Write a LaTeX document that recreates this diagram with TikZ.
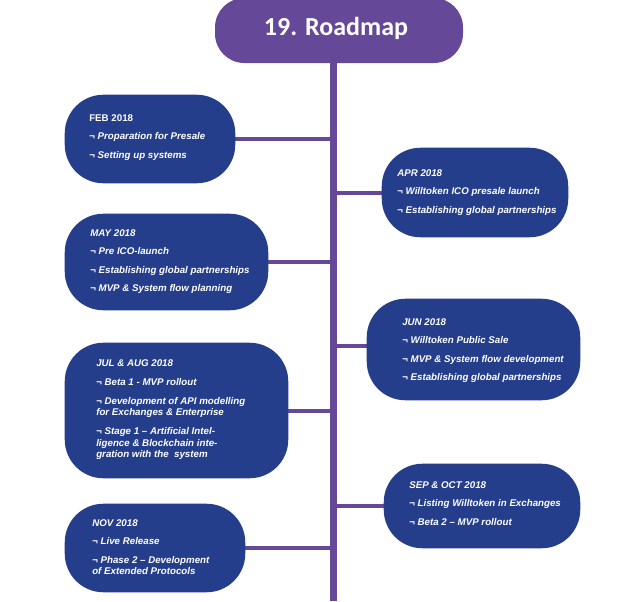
\documentclass[tikz,border=0pt]{standalone}
\usepackage{fontspec}
\setmainfont{Liberation Sans}
\newfontfamily\titlefont{Carlito}
\usetikzlibrary{fit}
\definecolor{boxblue}{RGB}{36,62,140}
\definecolor{roadpurple}{RGB}{101,72,151}
\tikzset{
  milestone/.style={fill=boxblue, rounded corners=29pt, inner sep=0pt, draw=none},
  titlebox/.style={fill=roadpurple, rounded corners=22pt, inner sep=0pt, draw=none},
  itemtext/.style={anchor=north west, inner sep=0pt, align=left, text=white,
    font=\fontsize{7.3}{8.6}\selectfont\bfseries\itshape},
  titletext/.style={text=white, inner sep=0pt, font=\titlefont\fontsize{19.5}{22}\selectfont\bfseries},
  spine/.style={draw=roadpurple, line width=5.25pt},
  branch/.style={draw=roadpurple, line width=3pt},
}
\begin{document}
\begin{tikzpicture}[x=0.75pt, y=-0.75pt]
\useasboundingbox (0,0) rectangle (640,601);
% title
\node[titlebox, fit={(215,-2) (463,63)}] (title) {};
\node[titletext] (titlelabel) at (336,28) {19. Roadmap};
\coordinate (spinetop) at (333,63);
\coordinate (spinebottom) at (333,601);
% boxes (shapes only, drawn later)
\path node[milestone, fill=none, fit={(65,95) (235,183)}] (feb) {}
      node[milestone, fill=none, fit={(382,148) (568,237)}] (apr) {}
      node[milestone, fill=none, fit={(65,214) (268,310)}] (may) {}
      node[milestone, fill=none, fit={(367,299) (580,400)}] (jun) {}
      node[milestone, fill=none, fit={(65,343) (288,478)}] (jul) {}
      node[milestone, fill=none, fit={(384,464) (580,548)}] (sep) {}
      node[milestone, fill=none, fit={(65,504) (245,592)}] (nov) {};
% spine and branches
\draw[spine] (spinetop) -- (spinebottom);
\draw[branch] (feb.east) -- (feb.east -| spinetop);
\draw[branch] (apr.west) -- (apr.west -| spinetop);
\draw[branch] (may.east) -- (may.east -| spinetop);
\draw[branch] ([yshift=3pt]jun.west) -- ([yshift=3pt]jun.west -| spinetop);
\draw[branch] (jul.east) -- (jul.east -| spinetop);
\draw[branch] (sep.west) -- (sep.west -| spinetop);
\draw[branch] (nov.east) -- (nov.east -| spinetop);
% filled boxes
\foreach \b in {feb,apr,may,jun,jul,sep,nov}
  \fill[boxblue, rounded corners=29pt] (\b.north west) rectangle (\b.south east);
% texts
\node[itemtext] (febtext) at (89,114.5) {{\upshape FEB 2018}\\[5.1pt]
  ¬ Proparation for Presale\\[5.1pt]
  ¬ Setting up systems};
\node[itemtext] (aprtext) at (397,169.5) {APR 2018\\[5.1pt]
  ¬ Willtoken ICO presale launch\\[5.1pt]
  ¬ Establishing global partnerships};
\node[itemtext] (maytext) at (90,229.5) {MAY 2018\\[5.1pt]
  ¬ Pre ICO-launch\\[5.1pt]
  ¬ Establishing global partnerships\\[5.1pt]
  ¬ MVP \& System flow planning};
\node[itemtext] (juntext) at (402,318.5) {JUN 2018\\[5.1pt]
  ¬ Willtoken Public Sale\\[5.1pt]
  ¬ MVP \& System flow development\\[5.1pt]
  ¬ Establishing global partnerships};
\node[itemtext] (jultext) at (96,359.5) {JUL \& AUG 2018\\[5.6pt]
  ¬ Beta 1 - MVP rollout\\[5.6pt]
  ¬ Development of API modelling\\
  for Exchanges \& Enterprise\\[5.6pt]
  ¬ Stage 1 – Artificial Intel-\\
  ligence \& Blockchain inte-\\
  gration with the\ \ system};
\node[itemtext] (septext) at (409,481.5) {SEP \& OCT 2018\\[5.1pt]
  ¬ Listing Willtoken in Exchanges\\[5.1pt]
  ¬ Beta 2 – MVP rollout};
\node[itemtext] (novtext) at (92,519.5) {NOV 2018\\[5.1pt]
  ¬ Live Release\\[5.1pt]
  ¬ Phase 2 – Development\\
  of Extended Protocols};
\end{tikzpicture}
\end{document}
